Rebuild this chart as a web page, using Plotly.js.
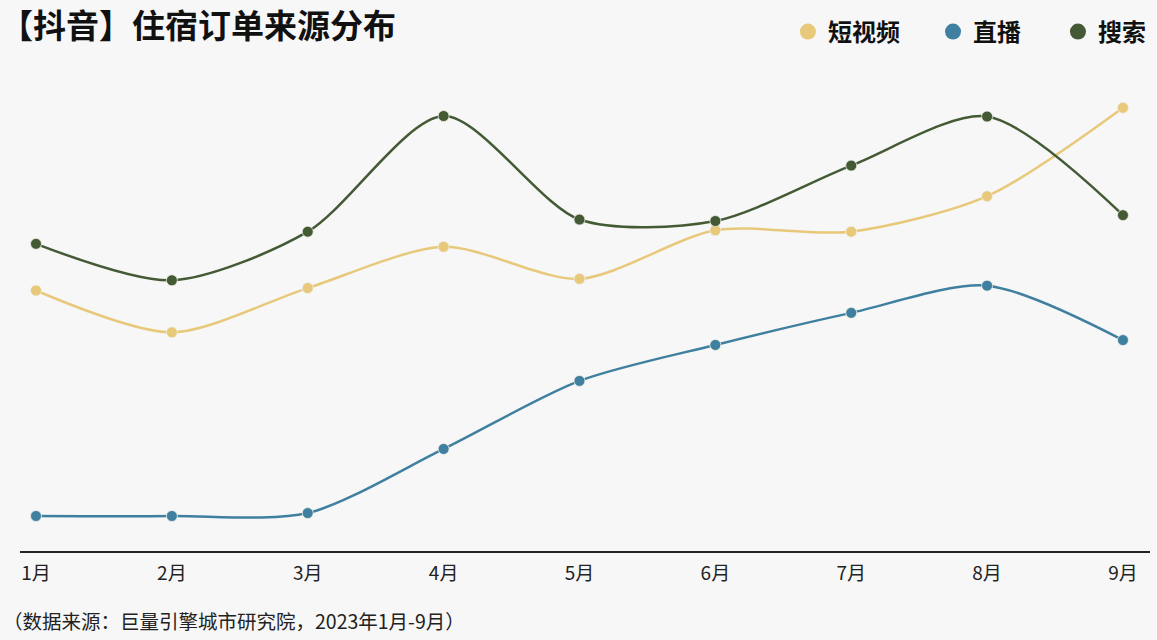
<!DOCTYPE html>
<html>
<head>
<meta charset="utf-8">
<script src="https://cdn.plot.ly/plotly-3.0.1.min.js"></script>
<style>
html,body{margin:0;padding:0;background:#f7f7f7;}
#chart{width:1157px;height:640px;}
</style>
</head>
<body>
<div id="chart"></div>
<script>
const months = ['1月','2月','3月','4月','5月','6月','7月','8月','9月'];
const shortVideo = [53.6, 45.0, 54.1, 62.6, 56.0, 66.0, 65.7, 73.0, 91.2];
const live = [7.2, 7.2, 7.8, 21.0, 35.0, 42.4, 49.0, 54.6, 43.4];
const search = [63.2, 55.7, 65.7, 89.5, 68.2, 67.9, 79.3, 89.4, 69.1];
const seriesNames = ['短视频', '直播', '搜索'];
const colors = ['#e8c97b', '#3f80a0', '#445a35'];
const titleText = '【抖音】住宿订单来源分布';
const sourceText = '（数据来源：巨量引擎城市研究院，2023年1月-9月）';

const FONT = '"Noto Sans CJK SC", "Noto Sans", sans-serif';
const xIdx = months.map((m, i) => i);
const seriesVals = [shortVideo, live, search];

const traces = [];
seriesVals.forEach((vals, k) => {
  traces.push({
    x: xIdx, y: vals, type: 'scatter', mode: 'lines+markers',
    name: seriesNames[k], showlegend: false,
    line: {color: colors[k], width: 2.5, shape: 'spline', smoothing: 0.8},
    marker: {color: colors[k], size: 11, line: {color: 'rgba(240,240,232,0.8)', width: 1}},
    hoverinfo: 'x+y'
  });
});
// legend entries
const legendKeys = ['legend', 'legend2', 'legend3'];
seriesVals.forEach((vals, k) => {
  traces.push({
    x: [null], y: [null], type: 'scatter', mode: 'markers',
    name: seriesNames[k], showlegend: true, legend: legendKeys[k],
    marker: {color: colors[k], size: 16}
  });
});

const legendFont = {family: FONT, size: 24, color: '#111', weight: 'bold'};
const legendX = [0.681, 0.8064, 0.9144];
const layout = {
  width: 1157, height: 640,
  paper_bgcolor: '#f7f7f7', plot_bgcolor: '#f7f7f7',
  margin: {l: 20, r: 7, t: 65, b: 89},
  title: {text: '<b>' + titleText + '</b>', font: {family: FONT, size: 33, color: '#111'},
          xref: 'container', x: 0, xanchor: 'left', yref: 'container', y: 0.958, yanchor: 'middle', pad: {l: 0}},
  xaxis: {
    range: [-0.1177, 8.199], tickmode: 'array', tickvals: xIdx, ticktext: months,
    showgrid: false, zeroline: false, showline: true, linecolor: '#222', linewidth: 1.5,
    ticks: 'outside', ticklen: 5, tickcolor: 'rgba(0,0,0,0)',
    tickfont: {family: FONT, size: 19, color: '#222'}, fixedrange: true
  },
  yaxis: {range: [0, 100], showgrid: false, zeroline: false, showline: false, showticklabels: false, ticks: '', fixedrange: true},
  annotations: [{
    text: sourceText, xref: 'paper', yref: 'paper', x: -0.017, y: -0.142,
    xanchor: 'left', yanchor: 'middle', showarrow: false,
    font: {family: FONT, size: 19.5, color: '#222'}
  }]
};
legendKeys.forEach((key, k) => {
  layout[key] = {
    orientation: 'h', x: legendX[k], xanchor: 'left', xref: 'container',
    y: 0.95, yanchor: 'middle', yref: 'container',
    bgcolor: 'rgba(0,0,0,0)', font: legendFont, itemclick: false, itemdoubleclick: false
  };
});

Plotly.newPlot('chart', traces, layout, {displayModeBar: false, staticPlot: true});
</script>
</body>
</html>
